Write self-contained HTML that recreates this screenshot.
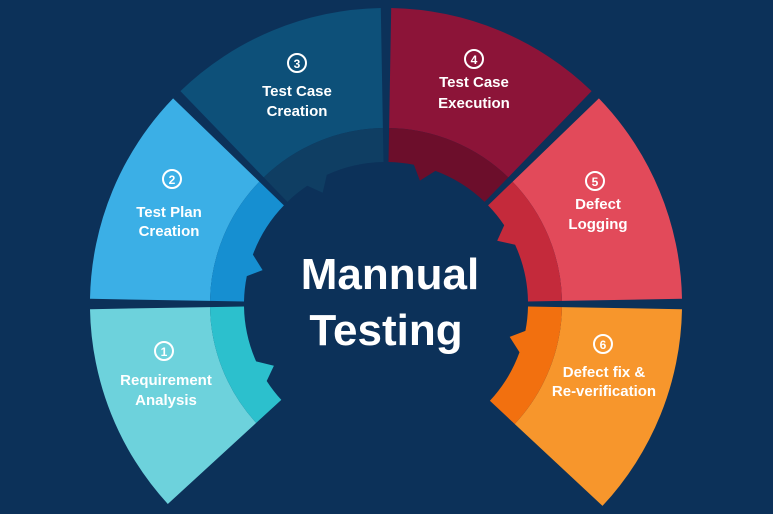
<!DOCTYPE html>
<html><head><meta charset="utf-8"><style>
html,body{margin:0;padding:0;background:#0c3159;}
svg{display:block}
text{font-family:"Liberation Sans",sans-serif;font-weight:bold;fill:#fff;text-anchor:middle}
</style></head><body>
<svg id="s" width="773" height="514" viewBox="0 0 773 514">
<rect width="773" height="514" fill="#0c3159"/>
<g id="segs"></g>
<g font-size="15">
<circle cx="297" cy="63" r="9" fill="none" stroke="#fff" stroke-width="2"/><text x="297" y="68" font-size="12">3</text>
<text x="297" y="96">Test Case</text><text x="297" y="116">Creation</text>
<circle cx="172" cy="179" r="9" fill="none" stroke="#fff" stroke-width="2"/><text x="172" y="184" font-size="12">2</text>
<text x="169" y="217">Test Plan</text><text x="169" y="236">Creation</text>
<circle cx="164" cy="351" r="9" fill="none" stroke="#fff" stroke-width="2"/><text x="164" y="356" font-size="12">1</text>
<text x="166" y="385">Requirement</text><text x="166" y="405">Analysis</text>
<circle cx="474" cy="59" r="9" fill="none" stroke="#fff" stroke-width="2"/><text x="474" y="64" font-size="12">4</text>
<text x="474" y="87">Test Case</text><text x="474" y="108">Execution</text>
<circle cx="595" cy="181" r="9" fill="none" stroke="#fff" stroke-width="2"/><text x="595" y="186" font-size="12">5</text>
<text x="598" y="209">Defect</text><text x="598" y="229">Logging</text>
<circle cx="603" cy="344" r="9" fill="none" stroke="#fff" stroke-width="2"/><text x="603" y="349" font-size="12">6</text>
<text x="604" y="377">Defect fix &amp;</text><text x="604" y="396">Re-verification</text>
</g>
<text x="390" y="289" font-size="44">Mannual</text>
<text x="386" y="345" font-size="44">Testing</text>
</svg>
<script>
var cx=386,cy=304,R=296,B=176,I=142;
var segs=[[137.5,179,"#6dd2dc","#2cc0cd"],[181,224,"#3bafe6","#168fd1"],[226,269,"#0d5079","#0f3e63"],
[271,314,"#8c1438","#6c0e2b"],[316,359,"#e24a5a","#c42a3b"],[1,43,"#f7962c","#f2700f"]];
function p(r,a){a=a*Math.PI/180;return (cx+r*Math.cos(a)).toFixed(1)+","+(cy+r*Math.sin(a)).toFixed(1);}
function arc(r1,r2,a0,a1){return "M"+p(r1,a0)+"A"+r1+","+r1+" 0 0 1 "+p(r1,a1)+"L"+p(r2,a1)+"A"+r2+","+r2+" 0 0 0 "+p(r2,a0)+"Z";}
var h="";
segs.forEach(function(s){
 h+='<path d="'+arc(R,B,s[0],s[1])+'" fill="'+s[2]+'"/>';
 var t=s[0]+(s[1]-s[0])*0.45;
 var d="M"+p(B,s[0])+"A"+B+","+B+" 0 0 1 "+p(B,s[1])+"L"+p(I,s[1])+"A"+I+","+I+" 0 0 0 "+p(I,t)+"L"+p(I-14,t-5)+"L"+p(I,t-9)+"A"+I+","+I+" 0 0 0 "+p(I,s[0])+"Z";
 h+='<path d="'+d+'" fill="'+s[3]+'"/>';
});
document.getElementById("segs").innerHTML=h;
</script>
</body></html>
